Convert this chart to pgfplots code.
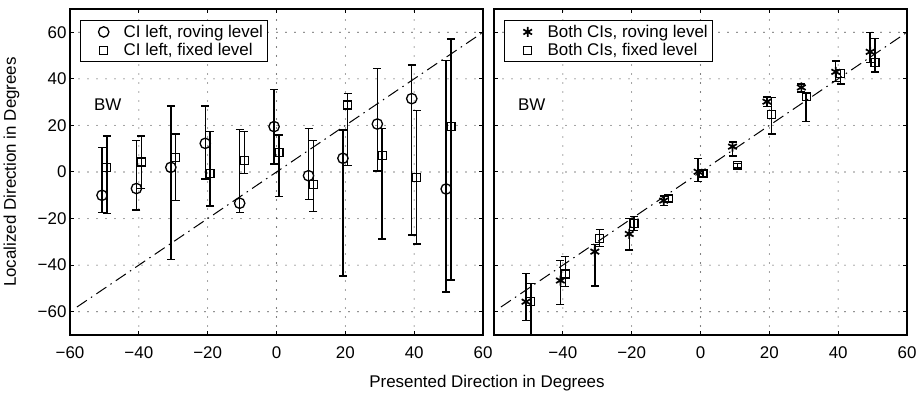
\documentclass[border=0pt]{standalone}
\usepackage{fontspec}
\setmainfont{Liberation Sans}
\usepackage{pgfplots}
\pgfplotsset{compat=1.18}
\newcommand\F{\fontsize{17}{19.5}\selectfont}
\pgfplotsset{
  panel/.style={
    scale only axis, width=413bp, height=326bp,
    xmin=-60, xmax=60, ymin=-70, ymax=70,
    xtick={-60,-40,...,60}, ytick={-60,-40,...,60},
    grid=major,
    major grid style={line width=1.1bp, dash pattern=on 0bp off 9bp, line cap=round, black},
    tick align=inside, major tick length=4bp,
    tick style={line width=1bp, black},
    axis line style={line width=1.2bp},
    tick label style={font=\F},
    xticklabel style={yshift=-8bp},
    legend cell align=left,
    legend style={at={(0.0235,0.966)}, anchor=north west, draw=black, line width=1bp,
      fill=white, font=\F, inner sep=2.5bp, row sep=0.5bp},
    legend image code/.code={\path (0bp,-3bp) (39bp,3bp); \path[##1, draw=none] plot coordinates {(21bp,0bp)};},
    error bars/y dir=both, error bars/y explicit,
    error bars/error bar style={line width=1.4bp, solid, draw=black},
    error bars/error mark options={rotate=90, mark size=4bp, line width=1.4bp, solid, draw=black},
  },
  pts/.style={draw=none, mark options={draw=black, line width=1.3bp, solid}},
  diag/.style={black, line width=1bp, dash pattern=on 12bp off 5bp on 1.5bp off 5bp},
}
\begin{document}
\begin{tikzpicture}
\useasboundingbox (-70bp,-59bp) rectangle (847bp,335bp);
\begin{axis}[panel, at={(0bp,0bp)}, anchor=south west,
  xticklabels={−60,−40,−20,0,20,40,60},
  yticklabels={−60,−40,−20,0,20,40,60}]
\addplot[diag, forget plot] coordinates {(-58,-58) (60,60)};
\addplot[pts, mark=o, mark size=5.2bp]
 coordinates {
 (-50.7,-10.0) += (0,20.6) -= (0,7.3)
 (-40.7,-7.1) += (0,20.5) -= (0,9.2)
 (-30.7,2.0) += (0,26.3) -= (0,39.5)
 (-20.7,12.3) += (0,16.0) -= (0,15.3)
 (-10.7,-13.4) += (0,31.7) -= (0,4.1)
 (-0.7,19.5) += (0,16.0) -= (0,16.0)
 (9.3,-1.6) += (0,20.2) -= (0,10.1)
 (19.3,5.9) += (0,12.1) -= (0,50.5)
 (29.3,20.6) += (0,23.9) -= (0,20.2)
 (39.3,31.5) += (0,14.4) -= (0,58.5)
 (49.3,-7.3) += (0,55.3) -= (0,44.3)
 };
\addlegendentry{CI left, roving level}
\addplot[pts, mark=square, mark size=4bp]
 coordinates {
 (-49.3,2.0) += (0,13.5) -= (0,19.7)
 (-39.3,4.3) += (0,11.2) -= (0,11.3)
 (-29.3,6.3) += (0,10.0) -= (0,18.6)
 (-19.3,-0.6) += (0,17.9) -= (0,14.0)
 (-9.3,4.9) += (0,12.4) -= (0,5.5)
 (0.7,8.3) += (0,7.6) -= (0,18.9)
 (10.7,-5.3) += (0,18.7) -= (0,11.7)
 (20.7,28.8) += (0,5.0) -= (0,26.1)
 (30.7,7.0) += (0,11.7) -= (0,35.8)
 (40.7,-2.3) += (0,28.6) -= (0,28.6)
 (50.7,19.4) += (0,37.7) -= (0,65.8)
 };
\addlegendentry{CI left, fixed level}
\node[anchor=west, font=\F] at (axis cs:-54,29) {BW};
\end{axis}
\begin{axis}[panel, at={(424bp,0bp)}, anchor=south west,
  xticklabels={,−40,−20,0,20,40,60},
  yticklabels={}]
\addplot[diag, forget plot] coordinates {(-58,-58) (60,60)};
\addplot[pts, mark=asterisk, mark size=5bp, mark options={line width=1.7bp}]
 coordinates {
 (-50.7,-55.7) += (0,12.2) -= (0,8.1)
 (-40.7,-46.6) += (0,8.5) -= (0,10.2)
 (-30.7,-34.2) += (0,3.0) -= (0,14.7)
 (-20.7,-26.6) += (0,6.6) -= (0,6.9)
 (-10.7,-12.3) += (0,2.0) -= (0,2.0)
 (-0.7,0.1) += (0,5.8) -= (0,4.3)
 (9.3,10.9) += (0,2.0) -= (0,4.0)
 (19.3,30.2) += (0,2.0) -= (0,2.0)
 (29.3,36.3) += (0,1.5) -= (0,2.0)
 (39.3,43.0) += (0,4.6) -= (0,4.2)
 (49.3,51.6) += (0,8.4) -= (0,4.6)
 };
\addlegendentry{Both CIs, roving level}
\addplot[pts, mark=square, mark size=4bp]
 coordinates {
 (-49.3,-55.7) += (0,7.7) -= (0,16.3)
 (-39.3,-43.8) += (0,7.5) -= (0,5.4)
 (-29.3,-28.5) += (0,3.9) -= (0,3.5)
 (-19.3,-22.0) += (0,2.8) -= (0,3.0)
 (-9.3,-11.3) += (0,1.5) -= (0,1.5)
 (0.7,-0.6) += (0,1.5) -= (0,1.5)
 (10.7,2.7) += (0,1.0) -= (0,1.0)
 (20.7,24.7) += (0,7.3) -= (0,8.4)
 (30.7,32.3) += (0,1.7) -= (0,10.7)
 (40.7,42.3) += (0,1.7) -= (0,4.5)
 (50.7,47.1) += (0,10.3) -= (0,4.1)
 };
\addlegendentry{Both CIs, fixed level}
\node[anchor=west, font=\F] at (axis cs:-54,29) {BW};
\end{axis}
\node[anchor=base, font=\F] at (417bp,-52bp) {Presented Direction in Degrees};
\node[anchor=base, rotate=90, font=\F] at (-54bp,163bp) {Localized Direction in Degrees};
\end{tikzpicture}
\end{document}
